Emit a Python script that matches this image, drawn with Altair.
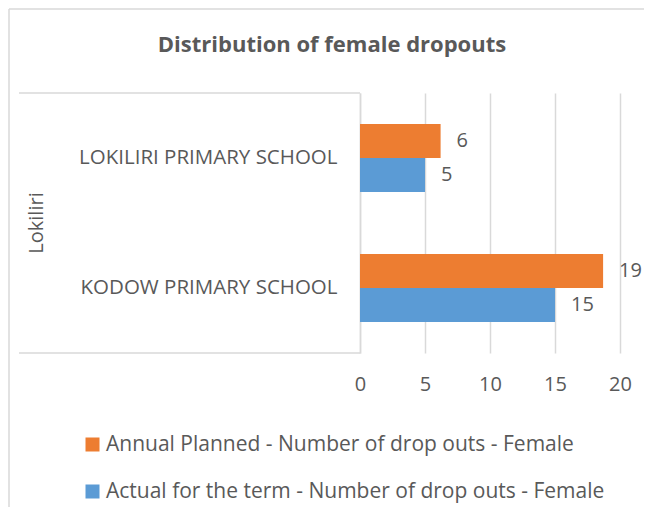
import altair as alt
import pandas as pd

schools = ["LOKILIRI PRIMARY SCHOOL", "KODOW PRIMARY SCHOOL"]
series = ["Annual Planned - Number of drop outs - Female",
          "Actual for the term - Number of drop outs - Female"]
annual_planned = [6.2, 18.7]
actual_term = [5, 15]
group_label = ["Lokiliri"]
x_ticks = [0, 5, 10, 15, 20]
colors = ["#ED7D31", "#5B9BD5"]
title_text = ["Distribution of female dropouts"]

rows = []
for s, a, b in zip(schools, annual_planned, actual_term):
    rows.append({"school": s, "series": series[0], "value": a})
    rows.append({"school": s, "series": series[1], "value": b})
df = pd.DataFrame(rows)

FONT = "Open Sans"
GRAY = "#595959"
LINE = "#d9d9d9"

y_enc = alt.Y("school:N", sort=schools,
              scale=alt.Scale(paddingInner=0.477, paddingOuter=0.238),
              axis=alt.Axis(title=None, ticks=False, domainColor=LINE, domainWidth=1.5,
                            labelFontSize=20.5, labelColor=GRAY, labelPadding=23,
                            labelFont=FONT, labelLimit=400))
yoff_enc = alt.YOffset("series:N", sort=series,
                       scale=alt.Scale(paddingInner=0, paddingOuter=0))
x_enc = alt.X("value:Q", scale=alt.Scale(domain=[0, 20], nice=False),
              axis=alt.Axis(values=x_ticks, grid=True, gridColor=LINE, gridWidth=1.5,
                            domain=False, ticks=False, labelFontSize=20, labelColor=GRAY,
                            labelPadding=21, labelFont=FONT, title=None, labelFlush=False))

bars = alt.Chart(df).mark_bar().encode(
    x=x_enc, y=y_enc, yOffset=yoff_enc,
    color=alt.Color("series:N", sort=series,
                    scale=alt.Scale(domain=series, range=colors),
                    legend=alt.Legend(orient="none", legendX=-278, legendY=341, title=None,
                                      symbolType="square", symbolSize=196,
                                      symbolStrokeWidth=0, labelFontSize=21,
                                      labelColor=GRAY, labelFont=FONT, rowPadding=25,
                                      labelOffset=3, labelLimit=600))
)

labels = alt.Chart(df).mark_text(align="left", baseline="middle", dx=16,
                                 fontSize=20, color=GRAY, font=FONT).encode(
    x="value:Q", y=alt.Y("school:N", sort=schools), yOffset=alt.YOffset("series:N", sort=series),
    text=alt.Text("value:Q", format=".0f")
)

gdf = pd.DataFrame({"g": group_label})
tdf = pd.DataFrame({"t": title_text})
title_txt = alt.Chart(tdf).mark_text(fontSize=22, fontWeight="bold", color=GRAY, font=FONT,
                                     baseline="alphabetic", align="center").encode(
    text="t:N", x=alt.value(-28), y=alt.value(-41)
)
group_txt = alt.Chart(gdf).mark_text(angle=270, fontSize=20, color=GRAY, font=FONT,
                                     baseline="middle", align="center").encode(
    text="g:N", x=alt.value(-323), y=alt.value(130)
)
box_top = alt.Chart(gdf).mark_rule(color=LINE, strokeWidth=1.5).encode(
    x=alt.value(-341), x2=alt.value(0), y=alt.value(0))
box_bot = alt.Chart(gdf).mark_rule(color=LINE, strokeWidth=1.5).encode(
    x=alt.value(-341), x2=alt.value(0), y=alt.value(260))
border_top = alt.Chart(gdf).mark_rule(color=LINE, strokeWidth=1.5).encode(
    x=alt.value(-351), x2=alt.value(284), y=alt.value(-84))
border_left = alt.Chart(gdf).mark_rule(color=LINE, strokeWidth=1.5).encode(
    x=alt.value(-351), y=alt.value(-84), y2=alt.value(420))

chart = alt.layer(border_top, border_left, box_top, box_bot, bars, labels,
                  group_txt, title_txt).properties(
    width=260, height=260,
    autosize=alt.AutoSizeParams(type="none"),
    padding={"left": 352, "top": 85, "right": 24, "bottom": 154},
).configure_view(strokeWidth=0)

chart.save("out.html", embed_options={"renderer": "svg", "actions": False})
